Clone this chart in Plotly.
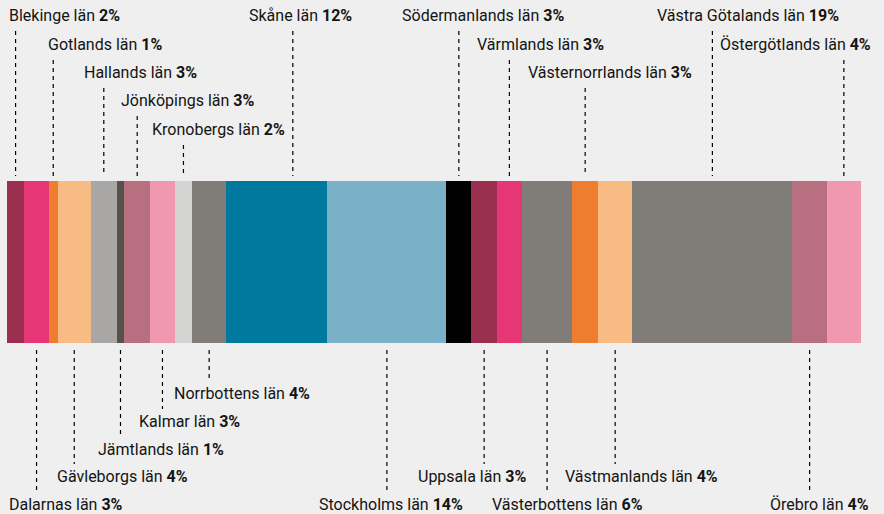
import plotly.graph_objects as go

# share of total per county (percent)
counties = [
    "Blekinge län", "Dalarnas län", "Gotlands län", "Gävleborgs län",
    "Hallands län", "Jämtlands län", "Jönköpings län", "Kalmar län",
    "Kronobergs län", "Norrbottens län", "Skåne län", "Stockholms län",
    "Södermanlands län", "Uppsala län", "Värmlands län", "Västerbottens län",
    "Västernorrlands län", "Västmanlands län", "Västra Götalands län",
    "Örebro län", "Östergötlands län",
]
shares = [2.0, 2.9, 1.0, 3.9, 3.0, 0.9, 3.0, 2.9, 2.0, 4.0, 11.8,
          13.9, 2.9, 3.0, 2.9, 5.9, 3.0, 4.0, 18.7, 4.0, 4.0]
colors = [
    "#9b2f50", "#e63675", "#ee7d30", "#f9bb84", "#a8a7a5", "#55524d",
    "#b87081", "#f098b0", "#d4d4d2", "#807c78", "#00799e", "#7ab0c8",
    "#000000", "#9b2f50", "#e63675", "#807c78", "#ee7d30", "#f9bb84",
    "#807c78", "#b87081", "#f098b0",
]

# label layout: left edge of text (px), row (0 = nearest the page edge),
# and a sideways nudge of the leader line (px) where it would hit a label
label_left_px = [7, 7, 46, 55, 82, 96, 119, 137, 150, 172, 247,
                 317, 400, 416, 475, 490, 526, 563, 655, 768, 718]
label_row = [0, 4, 1, 3, 2, 2, 3, 1, 4, 0, 0,
             4, 0, 3, 1, 4, 2, 3, 0, 4, 1]
leader_shift_px = [0] * 10 + [16] + [0] * 10
top_rows_y = [15, 44, 72, 100, 129]
bottom_rows_y = [393, 421, 449, 476, 504]

W, H = 884, 514
LEFT, RIGHT = 7, 861
BAR_TOP, BAR_BOTTOM = 181, 343
total = sum(shares)
unit = total / (RIGHT - LEFT)  # data units per pixel


def px_to_x(px):
    return (px - LEFT) * unit


fig = go.Figure()
for name, val, col in zip(counties, shares, colors):
    fig.add_trace(go.Bar(
        x=[val], y=[(BAR_TOP + BAR_BOTTOM) / 2], orientation="h",
        width=BAR_BOTTOM - BAR_TOP, name=name,
        marker=dict(color=col, line=dict(width=0)),
        hoverinfo="name+x",
    ))

shapes = []
annotations = []
cum = 0.0
for i, (name, val) in enumerate(zip(counties, shares)):
    mid = cum + val / 2 + leader_shift_px[i] * unit
    cum += val
    if i % 2 == 0:  # labels alternate above / below the bar
        ty = top_rows_y[label_row[i]]
        y0, y1 = ty + 16, BAR_TOP - 5
    else:
        ty = bottom_rows_y[label_row[i]]
        y0, y1 = BAR_BOTTOM + 7, ty - 12
    shapes.append(dict(
        type="line", xref="x", yref="y", x0=mid, x1=mid, y0=y0, y1=y1,
        line=dict(color="#000000", width=1.2, dash="4px,4px"),
    ))
    annotations.append(dict(
        x=px_to_x(label_left_px[i]), y=ty, xref="x", yref="y",
        text=f"{name} <b>{round(val)}%</b>", showarrow=False,
        xanchor="left", yanchor="middle",
        font=dict(family="Roboto", size=16, color="#141414"),
    ))

fig.update_layout(
    width=W, height=H,
    barmode="stack",
    showlegend=False,
    paper_bgcolor="#efefef",
    plot_bgcolor="#efefef",
    margin=dict(l=0, r=0, t=0, b=0, pad=0),
    xaxis=dict(range=[px_to_x(0), px_to_x(W)], visible=False, fixedrange=True),
    yaxis=dict(range=[H, 0], visible=False, fixedrange=True),
    shapes=shapes,
    annotations=annotations,
    bargap=0,
)

# drop the browser's default body margin so the figure fills the window
fig.write_html(
    "out.html",
    config={"displayModeBar": False},
    post_script="document.body.style.margin='0';"
                "document.body.style.background='#efefef';",
)
